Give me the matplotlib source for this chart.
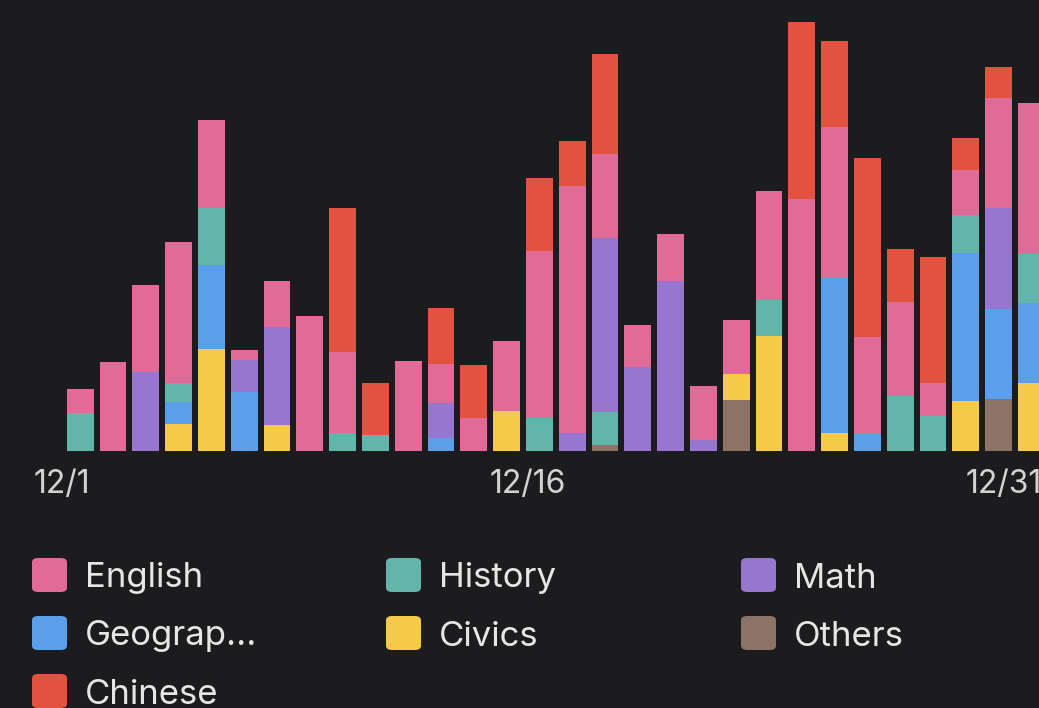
import numpy as np
import matplotlib
matplotlib.use("Agg")
import matplotlib.pyplot as plt
from matplotlib.patches import FancyBboxPatch

# minutes studied per subject, one entry per day starting 12/1
subjects = ["Others", "Civics", "Geography", "History", "Math", "English", "Chinese"]
others    = [0, 0, 0, 0, 0, 0, 0, 0, 0, 0, 0, 0, 0, 0, 0, 0, 6, 0, 0, 0, 51, 0, 0, 0, 0, 0, 0, 0, 52, 0]
civics    = [0, 0, 0, 27, 102, 0, 26, 0, 0, 0, 0, 0, 0, 40, 0, 0, 0, 0, 0, 0, 26, 115, 0, 18, 0, 0, 0, 50, 0, 68]
geography = [0, 0, 0, 22, 84, 59, 0, 0, 0, 0, 0, 13, 0, 0, 0, 0, 0, 0, 0, 0, 0, 0, 0, 155, 17, 0, 0, 148, 90, 80]
history   = [38, 0, 0, 19, 57, 0, 0, 0, 18, 16, 0, 0, 0, 0, 33, 0, 33, 0, 0, 0, 0, 36, 0, 0, 0, 55, 35, 38, 0, 49]
math      = [0, 0, 79, 0, 0, 32, 98, 0, 0, 0, 0, 35, 0, 0, 0, 18, 174, 84, 170, 11, 0, 0, 0, 0, 0, 0, 0, 0, 101, 0]
english   = [24, 89, 87, 141, 88, 10, 46, 135, 81, 0, 90, 39, 33, 70, 167, 247, 84, 42, 47, 54, 54, 109, 252, 151, 97, 94, 33, 45, 110, 151]
chinese   = [0, 0, 0, 0, 0, 0, 0, 0, 144, 52, 0, 56, 53, 0, 73, 45, 100, 0, 0, 0, 0, 0, 177, 86, 179, 53, 126, 32, 31, 0]

tick_pos = [-0.55, 13.65, 28.15]
tick_labels = ["12/1", "12/16", "12/31"]

legend_order = ["English", "History", "Math", "Geograp...", "Civics", "Others", "Chinese"]

colors = {
    "English": "#e26a96",
    "History": "#62b5a9",
    "Math": "#9676ce",
    "Geography": "#5b9fea",
    "Civics": "#f5c94a",
    "Others": "#8d7266",
    "Chinese": "#e2533f",
}
bg = "#1c1c1e"

plt.rcParams["font.family"] = ["Inter", "DejaVu Sans"]

series = [others, civics, geography, history, math, english, chinese]
days = np.arange(len(english))

fig = plt.figure(figsize=(10.39, 7.08), dpi=100, facecolor=bg)
ax = fig.add_axes([0, 0.363, 1, 0.6073])
ax.set_facecolor(bg)

bottom = np.zeros(len(days))
for name, vals in zip(subjects, series):
    vals = np.array(vals, dtype=float)
    ax.bar(days, vals, bottom=bottom, width=0.82, color=colors[name], linewidth=0)
    bottom += vals

ax.set_xlim(-2.445, 29.23)
ax.set_ylim(0, 430)
ax.set_yticks([])
ax.set_xticks(tick_pos)
ax.set_xticklabels(tick_labels, fontsize=23, color="#d2d2d2")
ax.tick_params(axis="x", length=0, pad=13)
for s in ax.spines.values():
    s.set_visible(False)

# legend: three columns, filled row by row
col_x = [32, 386, 741]
row_y = [575, 633, 691]
W, H = 1039, 708
for i, label in enumerate(legend_order):
    key = "Geography" if label.startswith("Geograp") else label
    cx = col_x[i % 3]
    cy = row_y[i // 3]
    sw = FancyBboxPatch(((cx) / W, (H - cy - 17) / H), 35 / W, 34 / H,
                        boxstyle="round,pad=0,rounding_size=0.006",
                        transform=fig.transFigure, facecolor=colors[key],
                        edgecolor="none")
    fig.patches.append(sw)
    fig.text((cx + 53) / W, (H - cy) / H, label, fontsize=25, color="#e6e6e6",
             va="center_baseline", ha="left")

fig.savefig("out.png", dpi=100, facecolor=bg)
